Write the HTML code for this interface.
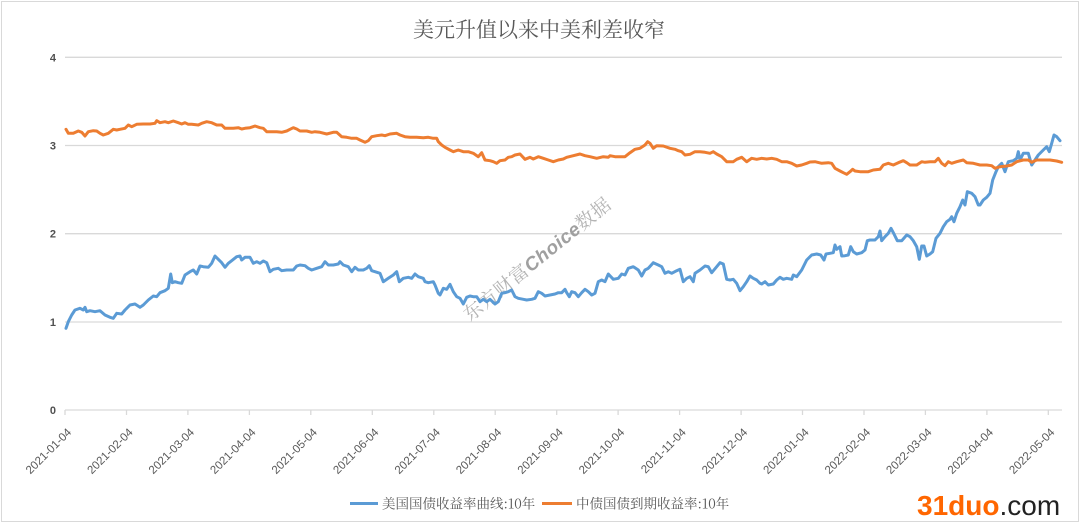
<!DOCTYPE html>
<html><head><meta charset="utf-8"><style>
html,body{margin:0;padding:0;background:#fff;}
svg{display:block;}
.serif{font-family:"Noto Serif CJK SC","Noto Serif CJK TC","Noto Serif CJK JP","Liberation Serif",serif;}
.legend{font-family:"Noto Serif CJK SC","Noto Serif CJK TC","Liberation Serif",serif;}
</style></head><body>
<svg width="1080" height="523" viewBox="0 0 1080 523" xmlns="http://www.w3.org/2000/svg">
<rect x="0" y="0" width="1080" height="523" fill="#fff"/>
<rect x="1.5" y="1.5" width="1077" height="520" fill="none" stroke="#d9d9d9" stroke-width="1"/>
<text class="serif" x="539" y="37" text-anchor="middle" font-size="21" fill="#595959">美元升值以来中美利差收窄</text>
<g stroke="#d9d9d9" stroke-width="1.3">
<line x1="65" y1="57.3" x2="1062" y2="57.3"/>
<line x1="65" y1="145.5" x2="1062" y2="145.5"/>
<line x1="65" y1="233.7" x2="1062" y2="233.7"/>
<line x1="65" y1="322" x2="1062" y2="322"/>
<line x1="65" y1="410" x2="1062" y2="410"/>
<line x1="65" y1="410" x2="65" y2="415"/><line x1="126.5" y1="410" x2="126.5" y2="415"/><line x1="187.9" y1="410" x2="187.9" y2="415"/><line x1="249.4" y1="410" x2="249.4" y2="415"/><line x1="310.8" y1="410" x2="310.8" y2="415"/><line x1="372.3" y1="410" x2="372.3" y2="415"/><line x1="433.8" y1="410" x2="433.8" y2="415"/><line x1="495.2" y1="410" x2="495.2" y2="415"/><line x1="556.7" y1="410" x2="556.7" y2="415"/><line x1="618.1" y1="410" x2="618.1" y2="415"/><line x1="679.6" y1="410" x2="679.6" y2="415"/><line x1="741.1" y1="410" x2="741.1" y2="415"/><line x1="802.5" y1="410" x2="802.5" y2="415"/><line x1="864" y1="410" x2="864" y2="415"/><line x1="925.4" y1="410" x2="925.4" y2="415"/><line x1="986.9" y1="410" x2="986.9" y2="415"/><line x1="1048.3" y1="410" x2="1048.3" y2="415"/>
</g>
<g font-family="'Liberation Sans',sans-serif" font-size="11" font-weight="bold" fill="#505050" text-anchor="end">
<text x="56" y="61.3">4</text>
<text x="56" y="149.5">3</text>
<text x="56" y="237.7">2</text>
<text x="56" y="326">1</text>
<text x="56" y="414">0</text>
</g>
<g font-family="'Liberation Sans',sans-serif" font-size="11.5" fill="#595959" text-anchor="end">
<text transform="translate(72,433) rotate(-45)">2021-01-04</text>
<text transform="translate(133.5,433) rotate(-45)">2021-02-04</text>
<text transform="translate(194.9,433) rotate(-45)">2021-03-04</text>
<text transform="translate(256.4,433) rotate(-45)">2021-04-04</text>
<text transform="translate(317.8,433) rotate(-45)">2021-05-04</text>
<text transform="translate(379.3,433) rotate(-45)">2021-06-04</text>
<text transform="translate(440.8,433) rotate(-45)">2021-07-04</text>
<text transform="translate(502.2,433) rotate(-45)">2021-08-04</text>
<text transform="translate(563.7,433) rotate(-45)">2021-09-04</text>
<text transform="translate(625.1,433) rotate(-45)">2021-10-04</text>
<text transform="translate(686.6,433) rotate(-45)">2021-11-04</text>
<text transform="translate(748.1,433) rotate(-45)">2021-12-04</text>
<text transform="translate(809.5,433) rotate(-45)">2022-01-04</text>
<text transform="translate(871,433) rotate(-45)">2022-02-04</text>
<text transform="translate(932.4,433) rotate(-45)">2022-03-04</text>
<text transform="translate(993.9,433) rotate(-45)">2022-04-04</text>
<text transform="translate(1055.3,433) rotate(-45)">2022-05-04</text>
</g>
<g transform="translate(470,322) rotate(-39)">
<text x="0" y="0" font-size="19" letter-spacing="0.5"><tspan class="serif" fill="#b4b4b4">东方财富</tspan><tspan font-family="'Liberation Sans',sans-serif" font-weight="bold" font-style="italic" fill="#a0a0a0">Choice</tspan><tspan class="serif" fill="#b4b4b4">数据</tspan></text>
</g>
<polyline fill="none" stroke="#5B9BD5" stroke-width="3" stroke-linejoin="round" stroke-linecap="round" points="66,328.3 68.3,321.7 71.7,315 75,310 80,308.3 83.3,310 85,307.3 86.7,311.7 90,310.7 95,311.7 100,310.7 105,315 110,317.3 113.3,318.3 116.7,313.3 121.7,314 125,310 130,305 135,304 140,307.3 143.3,305 148.3,300 153.3,296 156.7,296.7 160,292.7 165,290.7 168.3,288.3 170.7,274 172.3,282.7 175,281.7 178.3,282.7 181.7,283.3 185,275 190,271.7 193.3,270 196.7,274 200,266 203.3,266.7 208.3,267.3 211.7,263.3 215,256 218.3,259.3 221.7,262.7 225,267.3 228.3,263.3 231.7,260.7 236.7,256.7 240,256 241.7,260 245,257.3 250,257.3 253.3,263.3 256.7,261.7 260,263.3 263.3,261 266.7,262.7 270,271.7 273.3,269.3 278.3,268.3 281.7,270.7 286.7,270 293.3,270 296.7,266 300,265 305,265.7 308.3,268.3 311.7,270 316.7,268.3 321.7,266.7 325,261.7 328.3,265 333.3,265 338.3,264 340,261.7 343.3,265 348.3,266.7 351.7,271.7 355,267.3 358.3,270 363.3,270 366.7,268.3 369.3,265.7 371.7,270.7 375,271.7 380,273.3 383.3,281.7 388.3,278.3 393.3,275 396.7,271.7 399.3,281.7 403.3,278.3 408.3,277.3 411.7,278.3 415,274 418.3,276.7 423.3,278.3 425,281.7 428.3,282.7 433.3,281.7 435,285 438.3,293.3 440,295 443.3,288.3 446.7,289.3 450,284.3 453.3,291.7 456.7,296.7 460,298.3 463.3,304 466.7,297.3 470,296 473.3,296.7 476.7,296.7 480,301.7 483.3,299.3 486.7,301.7 490,299.3 495,304 498.3,301.7 501.7,293.3 505,292.7 508.3,291.7 511.7,290 515,296.7 518.3,298.3 523.3,299.3 526.7,300 531.7,299.3 535,298.3 538.3,291.7 541.7,293.3 545,296 550,295 555,294 558.3,292.7 561.7,292.7 565,289.3 566.7,292.7 569.3,296.7 571.7,291.7 575,292.7 578.3,296.7 581.7,292.7 585,289.3 588.3,291.7 591.7,295 595,293.3 598.3,281.7 601.7,280 605,281.7 608.3,274 613.3,279.3 618.3,278.3 621.7,274 625,275 628.3,268.3 633.3,266.7 638.3,270 641.7,276 645,270 648.3,268.3 653.3,262.7 658.3,265 661.7,266.7 665,273.3 668.3,271.7 671.7,273.3 676.7,270.7 680,269.3 683.3,281.7 686.7,278.3 690,276.7 693.3,281.7 695,273.3 700,270 705,266 708.3,266.7 711.7,272.7 716.7,266.7 720,262.7 723.3,264 726.7,279.3 730,280 733.3,279.3 736.7,283.3 740,290.7 743.3,286.7 746.7,281.7 750,276 753.3,278.3 756.7,280 760,283.3 761.7,284 765,281.7 768.3,285 773.3,284 776.7,280 780,277.3 783.3,279.3 786.7,278.3 791.7,279.3 793.3,275 796.7,276.7 801.7,270 806.7,260 811.7,255 816.7,254 820.7,255 824,260 826,254 830,253.3 833.3,252.7 835,245 836.7,249.3 840,246.7 841.7,256 845,255.7 848.3,255 850.7,246.7 853.3,251.7 856.7,254 861.7,252.7 865,250 867.3,240.7 870,240 875,240 878.3,236.7 880,231 881.7,240.7 885,236.7 888.3,233.3 891,228.3 894,234 897.3,240.7 901.7,240.7 906.7,235 910,236.7 913.3,240.7 916.7,246.7 919.3,259.3 921.7,246 924,246 926.7,256 930,254 932.7,251.7 936,238.3 940,233.3 943.3,226.7 946.7,221.7 950,219.3 951.7,216.7 954,221.7 956.7,213.3 960,206.7 962.7,200 965,205 967.3,191.7 971.7,193.3 975,196.7 978.3,205 980,205 983.3,200 986.7,197.3 990,193.3 992.7,180 996,171.7 998.3,166.7 1001.7,163.3 1005,171.7 1008.3,161.7 1013.3,160.7 1016.7,158.3 1018.3,151.7 1020,160 1023.3,153.3 1028.3,153.3 1031.7,165 1035,160 1038.3,155 1043.3,150 1046.7,146.7 1049.3,151.7 1051.7,143.3 1054,135 1056.7,136.7 1060,140.7"/>
<polyline fill="none" stroke="#ED7D31" stroke-width="3" stroke-linejoin="round" stroke-linecap="round" points="66,129.3 68.3,133.3 73.3,133.3 78.3,131 81.7,132.3 85,136 88.3,131.7 93.3,130.7 96.7,131 100,133.3 103.3,135 108.3,133.3 113.3,129.3 116.7,130 120,129.3 125,128.3 128.3,125 131.7,126.7 136.7,124.3 143.3,124 150,124 155,123.3 156.7,120.7 160,122.7 165,121.7 168.3,122.7 173.3,121 178.3,122.7 181.7,124 185,122.7 188.3,124.3 191.7,124.3 198.3,125 201.7,123.3 206.7,121.7 211.7,122.7 216.7,125 221.7,125 225,128.3 228.3,128.3 233.3,128.3 238.3,127.7 241.7,129 245,128.3 250,127.7 255,126 260,127.7 263.3,128.3 266.7,131.7 271.7,131.7 276.7,131.7 281.7,132.3 286.7,131 290,129.3 293.3,127.7 296.7,129 300,131 306.7,131 311.7,132.3 315,131.7 320,132.3 326.7,134 333.3,132.3 336.7,132.3 341.7,136.7 346.7,137.3 351.7,138.3 356.7,138.3 360,140 365,142.3 368.3,140.7 371.7,136.7 376.7,135.7 381.7,135 385,135.7 390,134 396.7,133.3 400,135 405,136.7 410,137.3 416.7,137.3 423.3,137.7 428.3,137.3 433.3,138.3 436.7,138.3 438.3,141.7 441.7,145 445,147.3 450,150 453.3,151.7 458.3,150 463.3,151.7 468.3,151.7 473.3,153.3 478.3,156.7 481.7,152.7 485,160 490,160.7 493.3,161.7 496.7,163.3 500,160.7 505,160 508.3,157.3 511.7,156.7 515,155 520,154 525,159.3 530,157.3 533.3,159 538.3,156.7 543.3,158.3 548.3,160 553.3,161.7 558.3,160 563.3,159 566.7,157.3 573.3,155.7 580,154 585,155.7 590,156.7 596.7,158.3 603.3,156.7 608.3,157.3 610,155.7 615,156.7 625,156.7 630,152.7 635,149.3 640,148.3 645,145 647.7,141.7 650,143.3 653.3,148.3 656.7,145.7 663.3,146 670,148.3 675,149.3 678.3,150.7 681.7,151.7 685,155 690,154.3 695,151.7 700,151.7 705,152.3 710,153.3 713.3,151.7 716.7,154 721.7,156.7 726.7,161.7 733.3,161.7 736.7,159.3 741.7,157.3 746.7,161.7 751.7,158.3 756.7,159.3 761.7,158.3 766.7,159 771.7,158.3 776.7,159.3 781.7,161.7 786.7,161.7 791.7,163.3 796.7,166 801.7,165 806.7,163.3 810,162 815,161.7 821.7,163.3 828.3,162.7 831.7,163.3 835,168.3 840,171 843.3,172.7 846.7,174.3 850,171.7 852.7,169.3 855,171 860,171.7 868.3,171.7 873.3,170 880,169.3 883.3,165 888.3,163.3 893.3,165 898.3,162.7 903.3,160.7 906.7,162.7 910,165 916.7,165 921.7,161.7 925,162.3 930,161.7 935,161.7 938.3,158.3 941.7,163.3 945,165.7 948.3,161.7 951.7,163.3 956.7,161.7 963.3,160 966.7,162.7 973.3,163.3 980,165 986.7,165 991.7,165.7 995,168.3 1000,166.7 1006.7,166 1011.7,165 1016.7,161.7 1023.3,160 1028.3,160 1031.7,162.3 1036.7,160 1043.3,160 1050,160 1056.7,161 1061.7,162.3"/>
<line x1="350" y1="503.5" x2="378" y2="503.5" stroke="#5B9BD5" stroke-width="3"/>
<text class="legend" x="382" y="508.5" font-size="13.5" fill="#595959">美国国债收益率曲线:10年</text>
<line x1="542" y1="503.5" x2="572" y2="503.5" stroke="#ED7D31" stroke-width="3"/>
<text class="legend" x="576" y="508.5" font-size="13.5" fill="#595959">中债国债到期收益率:10年</text>
<text x="917" y="515" font-family="'Liberation Sans',sans-serif" font-size="28"><tspan font-weight="bold" fill="#FF6600">31duo</tspan><tspan fill="#222">.com</tspan></text>
</svg>
</body></html>
